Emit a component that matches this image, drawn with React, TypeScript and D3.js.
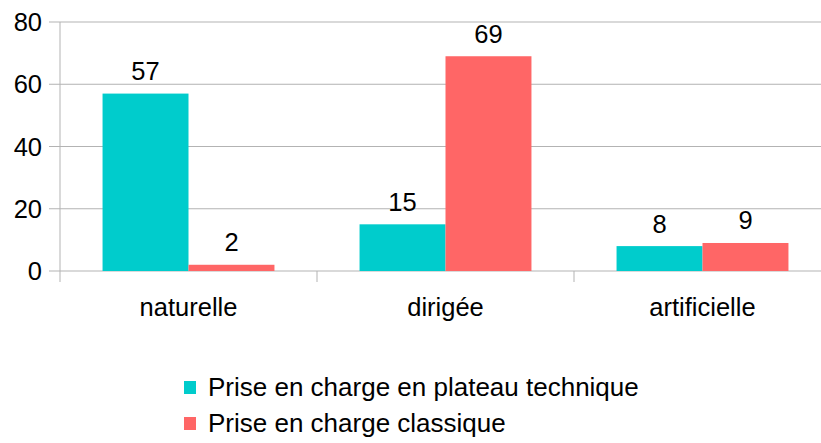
import React from "react";
import * as d3 from "d3";

const categories = ["naturelle", "dirigée", "artificielle"];
const seriesNames = ["Prise en charge en plateau technique", "Prise en charge classique"];
const technique = [57, 15, 8];
const classique = [2, 69, 9];
const yTicks = [0, 20, 40, 60, 80];
const colors = ["#00CCCC", "#FF6666"];

export default function App() {
  const W = 821, H = 443;
  const left = 60, right = 831, top = 22, bottom = 271;
  const x = d3.scaleBand<string>().domain(categories).range([left, right]).paddingInner(0).paddingOuter(0);
  const inner = d3.scaleBand<string>().domain(seriesNames).range([0, x.bandwidth()]).paddingInner(0).paddingOuter(0.495);
  const y = d3.scaleLinear().domain([0, 80]).range([bottom, top]);
  const series = [technique, classique];
  const font = "'Liberation Sans', Arial, sans-serif";
  const grid = "#b3b3b3";
  const fs = 25.5;
  const bounds = [...categories.map((c) => x(c)!), right];

  return (
    <svg width={W} height={H} style={{ position: "absolute", left: 0, top: 0, background: "#fff" }} fontFamily={font}>
      {yTicks.map((t) => (
        <g key={t}>
          <line x1={49} x2={right} y1={y(t)} y2={y(t)} stroke={grid} strokeWidth={1} />
          <text x={42} y={y(t) + 9} textAnchor="end" fontSize={fs} fill="#000">{t}</text>
        </g>
      ))}
      <line x1={left} x2={left} y1={top} y2={282} stroke={grid} strokeWidth={1} />
      {bounds.slice(1).map((b, i) => (
        <line key={i} x1={b} x2={b} y1={bottom} y2={282} stroke={grid} strokeWidth={1} />
      ))}
      {categories.map((c, ci) => (
        <g key={c}>
          {series.map((s, si) => {
            const bx = x(c)! + inner(seriesNames[si])!;
            const bw = inner.bandwidth();
            return (
              <g key={si}>
                <rect x={bx} y={y(s[ci])} width={bw} height={bottom - y(s[ci])} fill={colors[si]} />
                <text x={bx + bw / 2} y={y(s[ci]) - 13.5} textAnchor="middle" fontSize={fs} fill="#000">{s[ci]}</text>
              </g>
            );
          })}
          <text x={x(c)! + x.bandwidth() / 2} y={316} textAnchor="middle" fontSize={fs} fill="#000">{c}</text>
        </g>
      ))}
      {seriesNames.map((n, i) => (
        <g key={n}>
          <rect x={184} y={381 + i * 36} width={12} height={13} fill={colors[i]} />
          <text x={208} y={396 + i * 36} fontSize={26} fill="#000">{n}</text>
        </g>
      ))}
    </svg>
  );
}
